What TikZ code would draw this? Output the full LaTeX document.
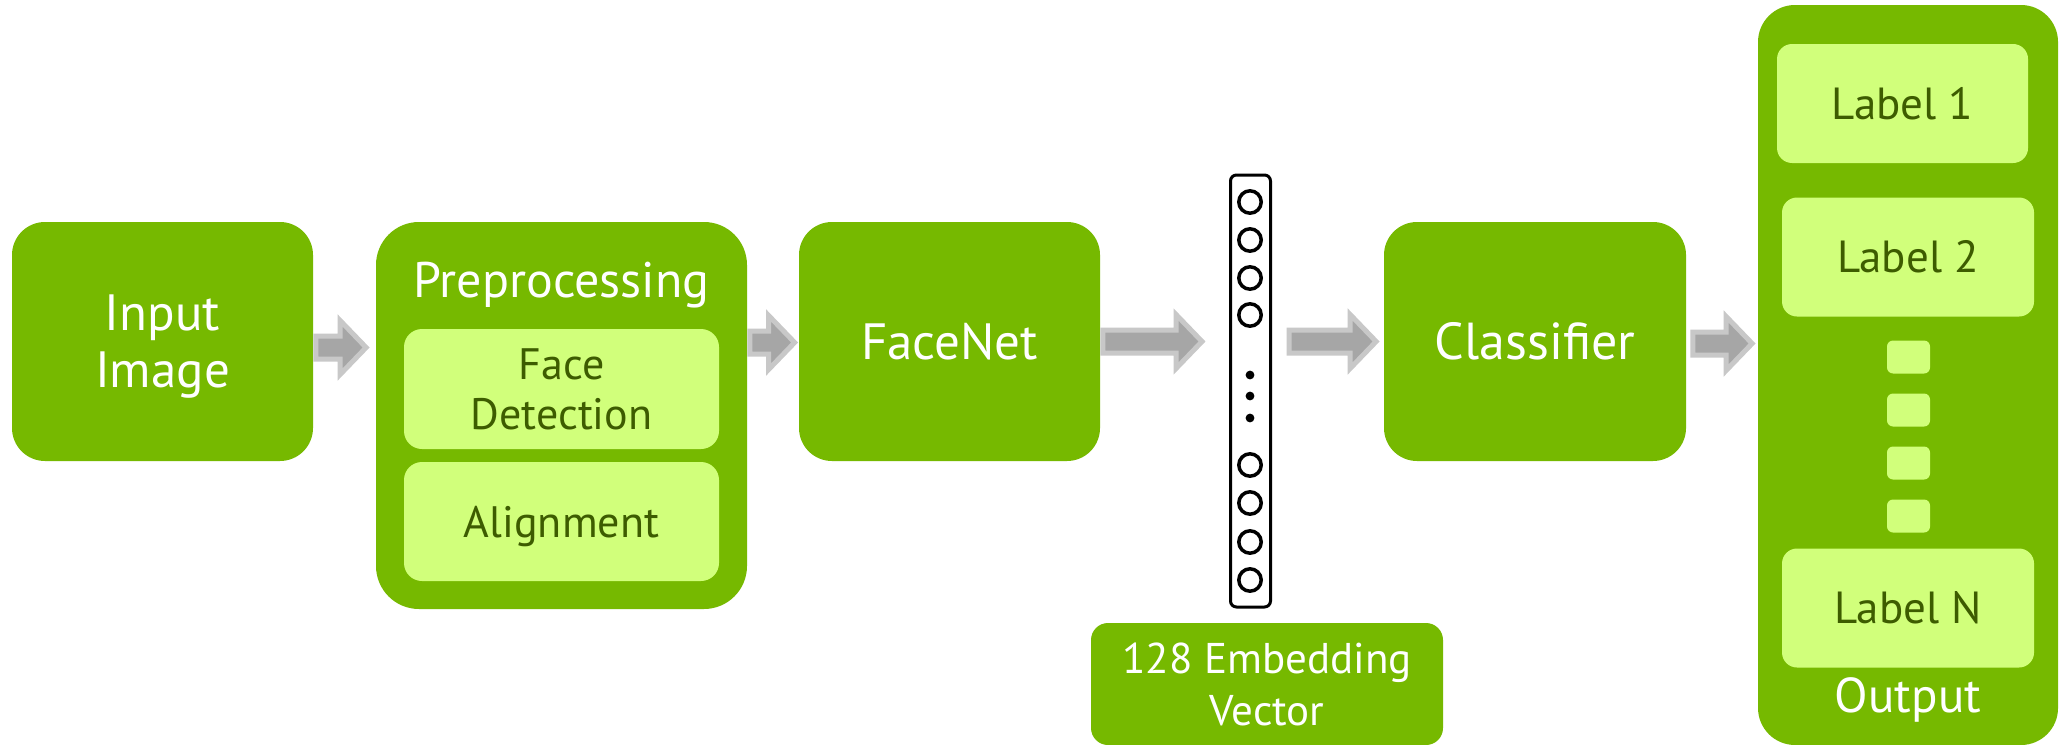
\documentclass[tikz,border=0pt]{standalone}
\usepackage{fontspec}
\setmainfont{PT Sans}
\usetikzlibrary{calc}

\definecolor{nvgreen}{HTML}{76B900}
\definecolor{palegreen}{HTML}{D1FF7B}
\definecolor{olivetext}{HTML}{3D5C00}
\definecolor{arrowcore}{HTML}{A6A6A6}
\definecolor{arrowrim}{HTML}{C8C8C8}

% Grey block arrow from the east side of #1 to the west side of #2, along the main row.
% #3: gap after the source, #4: gap before the target, #5: vertical shift (all in px units)
\newcommand\flowarrow[5]{%
  \coordinate (fa-s) at ($(#1.east|-row)+(#3,#5)$);
  \coordinate (fa-t) at ($(#2.west|-fa-s)+(-#4,0)$);
  \filldraw[blockarrow]
    ($(fa-s)+(0,-11.5)$) -- ($(fa-t)+(-26,-11.5)$) -- ($(fa-t)+(-26,-27)$) --
    (fa-t) -- ($(fa-t)+(-26,27)$) -- ($(fa-t)+(-26,11.5)$) --
    ($(fa-s)+(0,11.5)$) -- cycle;
}

\begin{document}
\begin{tikzpicture}[x=0.5pt,y=-0.5pt,
  stage/.style={fill=nvgreen, text=white, inner sep=0pt, align=center,
    font=\fontsize{25.5}{28.5}\selectfont},
  substage/.style={fill=palegreen, text=olivetext, inner sep=0pt, align=center,
    rounded corners=9pt, font=\fontsize{22}{25}\selectfont},
  labelbox/.style={fill=palegreen, text=olivetext, inner sep=0pt,
    rounded corners=7.5pt, minimum height=59.5pt,
    font=\fontsize{22.5}{27}\selectfont},
  dotbox/.style={fill=palegreen, inner sep=0pt, rounded corners=3pt,
    minimum width=21.5pt, minimum height=16.5pt},
  whitetext/.style={text=white, inner sep=0pt},
  blockarrow/.style={fill=arrowcore, draw=arrowrim, line width=2.5pt, line join=miter},
  unit/.style={draw=black, line width=1.75pt},
]
\clip (0,0) rectangle (2070,744);
\fill[white] (0,0) rectangle (2070,744);
\coordinate (row) at (0,341.5);

% pipeline stages
\node[stage, rounded corners=16.5pt, minimum width=150.5pt, minimum height=119.5pt,
  text depth=0pt] (in) at (162.5,341.5) {Input\\Image};

\node[stage, rounded corners=21.5pt, minimum width=185.5pt, minimum height=193.5pt]
  (pre) at (561.5,415.5) {};
\node[whitetext, anchor=base, font=\fontsize{25}{28}\selectfont]
  (pretitle) at (561.5,297) {Preprocessing};
\node[substage, minimum width=157.5pt, minimum height=60pt]
  (fd) at (561.5,389) {Face\\Detection};
\node[substage, minimum width=157.5pt, minimum height=59.5pt, text depth=0pt]
  (al) at (561.5,521.5) {Alignment};

\node[stage, rounded corners=16.5pt, minimum width=150.5pt, minimum height=119.5pt]
  (fn) at (949.5,341.5) {FaceNet};

% embedding vector
\node[draw=black, line width=1.5pt, fill=white, rounded corners=3pt, inner sep=0pt,
  minimum width=20pt, minimum height=216pt] (vec) at (1250.5,391) {};
\foreach \yy in {202,240,278,315,465,503,542,580}
  \draw[unit] (1250,\yy) circle[radius=5.6pt];
\foreach \yy in {375,396,418}
  \fill[black] (1250,\yy) circle[radius=2.2pt];

\node[stage, rounded corners=8.5pt, minimum width=176pt, minimum height=61pt,
  font=\fontsize{21.5}{26}\selectfont, text depth=0pt]
  (emb) at (1267,684) {128 Embedding\\Vector};

\node[stage, rounded corners=16.5pt, minimum width=151pt, minimum height=119.5pt,
  font=\fontsize{26}{29}\selectfont] (cls) at (1535,341.5) {Classifier};

% output column
\node[stage, rounded corners=18.5pt, minimum width=150pt, minimum height=370pt]
  (out) at (1908,375) {};
\node[labelbox, minimum width=125.5pt] (l1) at (1902.5,103.5) {Label 1};
\node[labelbox, minimum width=126pt] (l2) at (1908,257) {Label 2};
\node[dotbox] (d1) at (1908.5,357) {};
\node[dotbox] (d2) at (1908.5,410) {};
\node[dotbox] (d3) at (1908.5,463) {};
\node[dotbox] (d4) at (1908.5,516) {};
\node[labelbox, minimum width=126pt] (ln) at (1908,608) {Label N};
\node[whitetext, anchor=base, font=\fontsize{24.5}{28}\selectfont]
  (outtitle) at (1908,712) {Output};

% connecting arrows
\flowarrow{in}{pre}{2.5}{9.5}{6}
\flowarrow{pre}{fn}{2.5}{4}{1}
\flowarrow{fn}{vec}{2.5}{27}{0}
\flowarrow{vec}{cls}{17}{7.5}{0}
\flowarrow{cls}{out}{6.5}{5.5}{2}
\end{tikzpicture}
\end{document}
